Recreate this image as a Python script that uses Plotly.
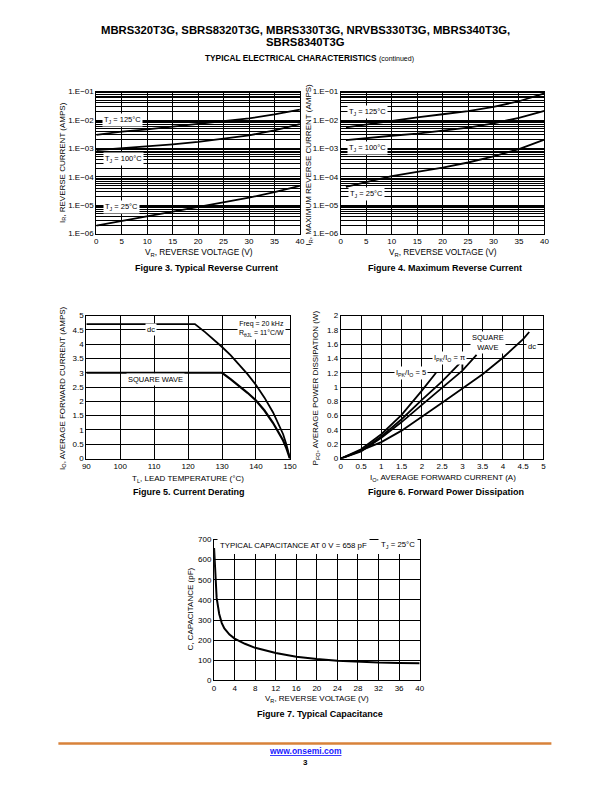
import plotly.graph_objects as go

FONT = "Liberation Sans"
W, H = 612, 792

# ---------------- data ----------------
# Figure 3: typical reverse current
f3_v = [0, 5, 10, 15, 20, 25, 30, 35, 40]
f3_125 = [3.0e-3, 3.9e-3, 4.7e-3, 5.8e-3, 7.2e-3, 9.0e-3, 1.14e-2, 1.58e-2, 2.35e-2]
f3_100 = [8.7e-4, 1.0e-3, 1.17e-3, 1.4e-3, 1.7e-3, 2.2e-3, 2.9e-3, 4.3e-3, 7.2e-3]
f3_25 = [1.9e-6, 2.8e-6, 4.0e-6, 5.8e-6, 8.5e-6, 1.25e-5, 1.85e-5, 2.9e-5, 4.8e-5]

# Figure 4: maximum reverse current
f4_v = [1, 5, 10, 15, 20, 25, 30, 35, 40]
f4_125 = [5.5e-3, 7.0e-3, 9.5e-3, 1.25e-2, 1.6e-2, 2.05e-2, 2.9e-2, 4.6e-2, 8.7e-2]
f4_100 = [1.95e-3, 2.35e-3, 2.8e-3, 3.3e-3, 4.2e-3, 5.4e-3, 7.6e-3, 1.2e-2, 2.1e-2]
f4_25 = [4.4e-5, 6.5e-5, 1.05e-4, 1.5e-4, 2.1e-4, 3.2e-4, 5.3e-4, 9.5e-4, 2.05e-3]

log_decades = [1e-6, 1e-5, 1e-4, 1e-3, 1e-2, 1e-1]
log_labels = ["1.E\u221206", "1.E\u221205", "1.E\u221204", "1.E\u221203", "1.E\u221202", "1.E\u221201"]

# Figure 5: current derating
f5_dc_t = [90, 122, 125, 127.5, 130, 132.5, 135, 137.5, 140, 142.5, 145, 147, 148, 149, 150]
f5_dc_i = [4.7, 4.7, 4.42, 4.17, 3.9, 3.62, 3.3, 2.95, 2.57, 2.13, 1.62, 1.12, 0.85, 0.47, 0.0]
f5_sq_t = [90, 130, 132.5, 135, 137.5, 140, 142.5, 145, 147, 148, 149, 150]
f5_sq_i = [3.0, 3.0, 2.78, 2.55, 2.3, 2.03, 1.68, 1.25, 0.85, 0.63, 0.35, 0.0]

# Figure 6: forward power dissipation
f6_x5 = [0, 0.5, 1, 1.5, 2, 2.35]
f6_y5 = [0, 0.13, 0.34, 0.61, 0.95, 1.2]
f6_xpi = [0, 0.5, 1, 1.5, 2, 2.5, 3, 3]
f6_ypi = [0, 0.11, 0.31, 0.55, 0.82, 1.08, 1.37, 1.24]
f6_xsq = [0, 0.5, 1, 1.5, 2, 2.5, 3, 3.35]
f6_ysq = [0, 0.1, 0.29, 0.51, 0.75, 0.99, 1.23, 1.45]
f6_xdc = [0, 0.5, 1, 1.5, 2, 2.5, 3, 3.5, 4, 4.5, 4.65]
f6_ydc = [0, 0.11, 0.23, 0.39, 0.58, 0.78, 0.98, 1.18, 1.41, 1.67, 1.77]

# Figure 7: typical capacitance
f7_v = [0, 0.1, 0.25, 0.5, 1, 1.5, 2, 3, 4, 6, 8, 12, 16, 20, 24, 28, 32, 36, 40]
f7_c = [658, 590, 500, 410, 330, 285, 258, 228, 208, 182, 162, 136, 118, 106, 98, 92, 89, 87, 86]


def px(x):
    return ((x - 3.5) / 0.984) / W


def py(y):
    return 1 - ((y - 4.3) / 0.989) / H


def dom_x(a, b):
    return [px(a), px(b)]


def dom_y(top, bottom):
    return [py(bottom), py(top)]


def axis(domain, anchor, **kw):
    d = dict(domain=domain, anchor=anchor, showline=True, mirror=True,
             linecolor="black", linewidth=1, showgrid=True, gridcolor="black",
             gridwidth=0.8, zeroline=False, ticks="",
             tickfont=dict(size=8, color="black", family=FONT), fixedrange=True)
    d.update(kw)
    return d


# minor log grid positions (digits 2..9 of each decade)
log_minor = [k * 10.0 ** d for d in range(-6, -1) for k in range(2, 10)]
minor_grid = dict(tickvals=log_minor, showgrid=True, gridcolor="black", gridwidth=0.8, ticks="")

fig = go.Figure()


def add(x, y, xa, ya, w=1.8):
    fig.add_trace(go.Scatter(x=x, y=y, mode="lines", xaxis=xa, yaxis=ya,
                             line=dict(color="black", width=w), hoverinfo="skip",
                             showlegend=False))


add(f3_v, f3_125, "x", "y")
add(f3_v, f3_100, "x", "y")
add(f3_v, f3_25, "x", "y")
add(f4_v, f4_125, "x2", "y2")
add(f4_v, f4_100, "x2", "y2")
add(f4_v, f4_25, "x2", "y2")
add(f5_dc_t, f5_dc_i, "x3", "y3")
add(f5_sq_t, f5_sq_i, "x3", "y3", 2.2)
add(f6_x5, f6_y5, "x4", "y4")
add(f6_xpi, f6_ypi, "x4", "y4")
add(f6_xsq, f6_ysq, "x4", "y4")
add(f6_xdc, f6_ydc, "x4", "y4")
add(f7_v, f7_c, "x5", "y5", 2)

layout = dict(width=W, height=H, margin=dict(l=0, r=0, t=0, b=0),
              paper_bgcolor="white", plot_bgcolor="white", showlegend=False,
              font=dict(family=FONT, color="black"))

layout["xaxis"] = axis(dom_x(96, 300), "y", range=[0, 40], tickvals=list(range(0, 41, 5)))
layout["yaxis"] = axis(dom_y(92, 234), "x", type="log", range=[-6, -1],
                       tickvals=log_decades, ticktext=log_labels, minor=minor_grid)
layout["xaxis2"] = axis(dom_x(341, 545), "y2", range=[0, 40], tickvals=list(range(0, 41, 5)))
layout["yaxis2"] = axis(dom_y(92, 234), "x2", type="log", range=[-6, -1],
                        tickvals=log_decades, ticktext=log_labels, minor=minor_grid)
layout["xaxis3"] = axis(dom_x(86, 290), "y3", range=[90, 150], dtick=10, tick0=90)
layout["yaxis3"] = axis(dom_y(316, 459), "x3", range=[0, 5], dtick=0.5, tick0=0)
layout["xaxis4"] = axis(dom_x(341, 544), "y4", range=[0, 5], dtick=0.5, tick0=0)
layout["yaxis4"] = axis(dom_y(316, 459), "x4", range=[0, 2], dtick=0.2, tick0=0)
layout["xaxis5"] = axis(dom_x(214, 420), "y5", range=[0, 40], dtick=4, tick0=0)
layout["yaxis5"] = axis(dom_y(540, 681), "x5", range=[0, 700], dtick=100, tick0=0)

ann = []


def text(x, y, s, size=8, bold=False, angle=0, color="black", xanchor="center"):
    if bold:
        s = "<b>" + s + "</b>"
    ann.append(dict(x=px(x), y=py(y), xref="paper", yref="paper", text=s,
                    showarrow=False, textangle=angle, xanchor=xanchor, yanchor="middle",
                    font=dict(size=size, color=color, family=FONT)))


def label(xa, ya, x, y, s, size=7.5):
    ann.append(dict(x=x, y=y, xref=xa, yref=ya, text=s, showarrow=False,
                    bgcolor="white", borderpad=1, font=dict(size=size, color="black", family=FONT)))


CAP = 9.0
# header
text(306, 30, "MBRS320T3G, SBRS8320T3G, MBRS330T3G, NRVBS330T3G, MBRS340T3G,", 11.3, True)
text(306, 42, "SBRS8340T3G", 11.3, True)
text(310, 58, "<b>TYPICAL ELECTRICAL CHARACTERISTICS</b> <span style='font-size:7px'>(continued)</span>", 8.3)

# figure 3
text(62, 163, "I<sub>R</sub>, REVERSE CURRENT (AMPS)", 8, angle=-90)
text(199, 253, "V<sub>R</sub>, REVERSE VOLTAGE (V)", 8.3)
text(206, 268, "Figure 3. Typical Reverse Current", CAP, True)
label("x", "y", 5.2, -2.0, "T<sub>J</sub> = 125°C")
label("x", "y", 5.3, -3.38, "T<sub>J</sub> = 100°C")
label("x", "y", 5.0, -5.05, "T<sub>J</sub> = 25°C")

# figure 4
text(309, 165, "I<sub>R</sub>, MAXIMUM REVERSE CURRENT (AMPS)", 8, angle=-90)
text(443, 253, "V<sub>R</sub>, REVERSE VOLTAGE (V)", 8.3)
text(445, 268, "Figure 4. Maximum Reverse Current", CAP, True)
label("x2", "y2", 5.2, -1.72, "T<sub>J</sub> = 125°C")
label("x2", "y2", 5.3, -3.0, "T<sub>J</sub> = 100°C")
label("x2", "y2", 5.0, -4.62, "T<sub>J</sub> = 25°C")

# figure 5
text(62, 388, "I<sub>O</sub>, AVERAGE FORWARD CURRENT (AMPS)", 8, angle=-90)
text(188, 479, "T<sub>L</sub>, LEAD TEMPERATURE (°C)", 8)
text(189, 492, "Figure 5. Current Derating", CAP, True)
label("x3", "y3", 109, 4.5, "dc")
label("x3", "y3", 110.3, 2.77, "SQUARE WAVE")
label("x3", "y3", 141.5, 4.52, "Freq = 20 kHz<br>R<sub>θJL</sub> = 11°C/W", 7)

# figure 6
text(316, 388, "P<sub>FO</sub>, AVERAGE POWER DISSIPATION (W)", 8, angle=-90)
text(443, 478, "I<sub>O</sub>, AVERAGE FORWARD CURRENT (A)", 8)
text(446, 492, "Figure 6. Forward Power Dissipation", CAP, True)
label("x4", "y4", 1.72, 1.19, "I<sub>PK</sub>/I<sub>O</sub> = 5")
label("x4", "y4", 2.67, 1.41, "I<sub>PK</sub>/I<sub>O</sub> = π")
label("x4", "y4", 3.63, 1.63, "SQUARE<br>WAVE")
label("x4", "y4", 4.73, 1.57, "dc")

# figure 7
text(190, 610, "C, CAPACITANCE (pF)", 8, angle=-90)
text(317, 700, "V<sub>R</sub>, REVERSE VOLTAGE (V)", 8)
text(320, 715, "Figure 7. Typical Capacitance", CAP, True)
ann.append(dict(x=0.6, y=672, xref="x5", yref="y5", xanchor="left", text="TYPICAL CAPACITANCE AT 0 V = 658 pF",
                showarrow=False, bgcolor="white", borderpad=2,
                font=dict(size=7.8, color="black", family=FONT)))
ann.append(dict(x=39.6, y=672, xref="x5", yref="y5", xanchor="right", text="T<sub>J</sub> = 25°C",
                showarrow=False, bgcolor="white", borderpad=2,
                font=dict(size=7.8, color="black", family=FONT)))

# footer
text(306, 752, "<u>www.onsemi.com</u>", 8.5, True, color="#1a1aff")
text(306, 763, "3", 8, True)

layout["annotations"] = ann
layout["shapes"] = [
    dict(type="rect", xref="x5", yref="y5", x0=0.3, x1=39.9, y0=628, y1=699,
         fillcolor="white", line=dict(width=0), layer="between"),
    dict(type="line", xref="paper", yref="paper", x0=px(58), x1=px(552), y0=py(744), y1=py(744),
         line=dict(color="#d8823a", width=2.5)),
]

fig.update_layout(**layout)
fig.write_html("out.html", config={"displayModeBar": False},
               post_script="document.body.style.margin='0';document.body.style.overflow='hidden';")
